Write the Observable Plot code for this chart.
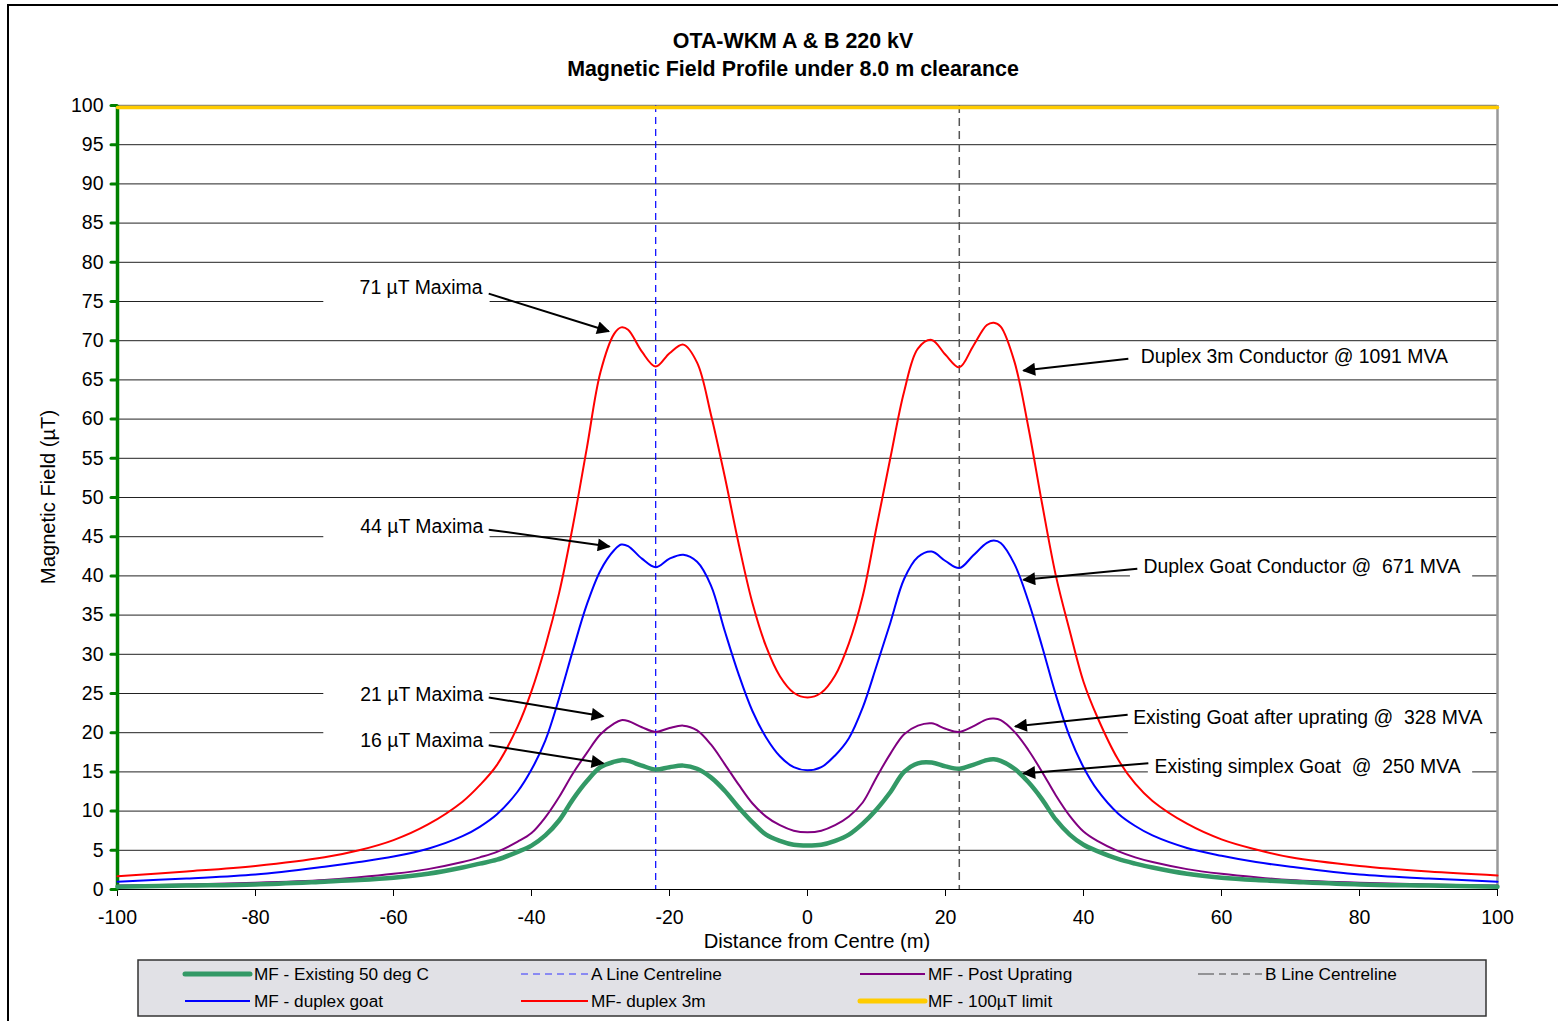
<!DOCTYPE html>
<html>
<head>
<meta charset="utf-8">
<script src="https://cdn.jsdelivr.net/npm/d3@7"></script>
<script src="https://cdn.jsdelivr.net/npm/@observablehq/plot@0.6"></script>
<style>
  html, body { margin: 0; padding: 0; background: #fff; }
  svg { white-space: pre; }
</style>
</head>
<body>
<div id="chart"></div>
<script>
// ---------------- DATA ----------------
const distance = [-100,-90,-80,-70,-65,-60,-55,-50,-47.5,-45,-42,-40,-38,-36,-34,-32,-30,-28,-27,-26,-24,-22,-20,-18,-16,-14,-12,-10,-8,-6,-4,-2,
  0,2,4,6,8,10,12,14,16,18,20,22,24,26,27,28,30,32,34,36,38,40,42,45,47.5,50,55,60,65,70,80,90,100];

const mfExisting50 = [0.35,0.5,0.65,1.0,1.2,1.5,2.0,2.8,3.3,3.8,4.8,5.6,6.9,8.8,11.5,13.8,15.6,16.3,16.5,16.4,15.8,15.3,15.6,15.8,15.4,14.3,12.6,10.5,8.6,7.0,6.2,5.7,
  5.6,5.7,6.2,7.0,8.4,10.2,12.4,15.0,16.1,16.2,15.7,15.4,15.9,16.5,16.6,16.4,15.4,13.7,11.5,8.9,7.0,5.7,4.9,3.9,3.3,2.8,2.0,1.5,1.2,1.0,0.65,0.5,0.35];

const mfPostUprating = [0.5,0.65,0.85,1.2,1.55,2.0,2.6,3.5,4.1,4.8,6.1,7.2,9.2,11.8,14.8,17.4,19.8,21.2,21.6,21.5,20.7,20.1,20.6,20.9,20.3,18.5,16.0,13.4,11.0,9.3,8.2,7.5,
  7.3,7.5,8.2,9.3,11.1,14.3,17.3,19.8,20.9,21.2,20.5,20.1,20.8,21.7,21.8,21.6,20.1,17.8,15.0,12.0,9.4,7.4,6.2,4.9,4.1,3.5,2.6,2.0,1.55,1.2,0.85,0.65,0.5];

const mfDuplexGoat = [1.0,1.4,1.9,2.9,3.5,4.2,5.2,6.8,8.0,9.6,12.5,15.3,19.0,24.4,30.5,36.3,40.7,43.3,44.0,43.8,42.2,41.1,42.2,42.7,41.8,38.8,33.0,27.5,22.8,19.4,17.0,15.6,
  15.2,15.6,17.1,19.3,23.2,28.5,34.0,39.6,42.4,43.1,41.9,41.0,42.6,44.2,44.5,44.2,41.5,36.8,31.0,24.8,19.5,15.6,12.7,9.7,8.1,6.9,5.3,4.3,3.5,2.9,1.9,1.4,1.0];

const mfDuplex3m = [1.7,2.3,3.0,4.1,5.0,6.3,8.3,11.2,13.3,15.9,20.8,25.3,31.0,37.8,46.4,56.2,66.0,70.9,71.7,71.4,68.6,66.7,68.4,69.5,67.2,60.6,52.7,44.2,36.6,31.0,27.2,25.1,
  24.5,25.1,27.3,31.4,37.4,46.2,55.0,63.5,69.0,70.1,68.2,66.6,69.3,72.0,72.3,71.8,67.3,59.0,49.2,40.0,33.0,26.5,22.0,16.6,13.5,11.3,8.4,6.4,5.1,4.1,3.0,2.3,1.8];

const limit100 = [100, 100];
const limitX = [-100, 100];

const aLineCentre = -22;
const bLineCentre = 22;

const xTicks = [-100,-80,-60,-40,-20,0,20,40,60,80,100];
const yTicks = d3.range(0, 101, 5);

// annotations (left labels end at x, right labels start at x)
const leftText = ["71 µT Maxima","44 µT Maxima","21 µT Maxima","16 µT Maxima"];
const leftX = [-47.1,-47.0,-47.0,-47.0];
const leftY = [76.8,46.3,24.9,19.0];
const rightText = ["Duplex 3m Conductor @ 1091 MVA","Duplex Goat Conductor @  671 MVA",
  "Existing Goat after uprating @  328 MVA","Existing simplex Goat  @  250 MVA"];
const rightX = [48.3,48.7,47.2,50.3];
const rightY = [67.9,41.1,21.9,15.7];
const arrowX1 = [-46.2,-46.2,-46.2,-46.2,46.5,47.8,46.4,49.4];
const arrowY1 = [76.0,45.9,24.5,18.4,67.7,40.9,22.3,16.1];
const arrowX2 = [-28.8,-28.7,-29.6,-29.6,31.3,31.3,30.1,31.3];
const arrowY2 = [71.2,43.75,22.1,16.1,66.2,39.5,20.8,14.8];

// white label backgrounds (hide gridlines behind labels)
const boxX1 = [-70.1,-70.1,-70.1,-70.1,46.8,46.5,49.4];
const boxX2 = [-46.0,-46.0,-46.0,-46.0,96.4,99.0,96.4];
const boxY1 = [73.5,43.5,23.0,17.5,38.5,19.0,13.5];
const boxY2 = [79.0,48.5,26.5,21.0,43.5,24.0,17.5];

const title1 = "OTA-WKM A & B 220 kV";
const title2 = "Magnetic Field Profile under 8.0 m clearance";
const xLabel = "Distance from Centre (m)";
const yLabel = "Magnetic Field (µT)";

// ---------------- BUILD ----------------
function rows(ys) { return distance.map((d, i) => ({x: d, y: ys[i]})); }
const leftAnno = leftText.map((t, i) => ({t, x: leftX[i], y: leftY[i]}));
const rightAnno = rightText.map((t, i) => ({t, x: rightX[i], y: rightY[i]}));
const arrows = arrowX1.map((d, i) => ({x1: d, y1: arrowY1[i], x2: arrowX2[i], y2: arrowY2[i]}));
const boxes = boxX1.map((d, i) => ({x1: d, x2: boxX2[i], y1: boxY1[i], y2: boxY2[i]}));
const limitRows = limitX.map((d, i) => ({x: d, y: limit100[i]}));

const FONT = "Arial, 'Liberation Sans', sans-serif";
const CURVE = "catmull-rom";

const plot = Plot.plot({
  width: 1558,
  height: 1021,
  marginLeft: 117,
  marginRight: 61,
  marginTop: 105,
  marginBottom: 132,
  style: {fontFamily: FONT, fontSize: "19px", background: "white", color: "#000"},
  x: {domain: [-100, 100]},
  y: {domain: [0, 100]},
  marks: [
    Plot.ruleY(d3.range(5, 100, 5), {stroke: "#222", strokeWidth: 1}),
    Plot.ruleY([100], {stroke: "#808080", strokeWidth: 1.5}),
    Plot.rect(boxes, {x1: "x1", x2: "x2", y1: "y1", y2: "y2", fill: "white"}),
    Plot.ruleX([100], {stroke: "#999", strokeWidth: 2.5}),
    Plot.ruleX([aLineCentre], {stroke: "#0000ff", strokeWidth: 1.2, strokeDasharray: "7,5"}),
    Plot.ruleX([bLineCentre], {stroke: "#555", strokeWidth: 1.5, strokeDasharray: "8,5"}),
    Plot.ruleY([0], {stroke: "#000", strokeWidth: 1.2}),
    Plot.axisX(xTicks, {tickSize: 7, tickPadding: 14, fontSize: 19.5, label: null, stroke: "#000", tickFormat: d => String(d)}),
    Plot.axisY(yTicks, {tickSize: 6, tickPadding: 8, fontSize: 19.5, label: null, tickFormat: d => String(d)}),
    Plot.ruleX([-100], {stroke: "#008000", strokeWidth: 3.5}),
    Plot.line(limitRows, {x: "x", y: "y", stroke: "#FFCC00", strokeWidth: 3.5, dy: 2}),
    Plot.line(rows(mfDuplex3m), {x: "x", y: "y", stroke: "#FF0000", strokeWidth: 2, curve: CURVE}),
    Plot.line(rows(mfDuplexGoat), {x: "x", y: "y", stroke: "#0000FF", strokeWidth: 2, curve: CURVE}),
    Plot.line(rows(mfPostUprating), {x: "x", y: "y", stroke: "#800080", strokeWidth: 2, curve: CURVE}),
    Plot.line(rows(mfExisting50), {x: "x", y: "y", stroke: "#339966", strokeWidth: 4.5, curve: CURVE}),
    Plot.link(arrows, {x1: "x1", y1: "y1", x2: "x2", y2: "y2", stroke: "#000", strokeWidth: 2}),
    Plot.text(leftAnno, {x: "x", y: "y", text: "t", textAnchor: "end", fontSize: 19.4, fill: "#000", lineAnchor: "middle"}),
    Plot.text(rightAnno, {x: "x", y: "y", text: "t", textAnchor: "start", fontSize: 19.4, fill: "#000", lineAnchor: "middle"})
  ]
});

document.getElementById("chart").appendChild(plot);

// ---------------- DECORATION ----------------
const svg = d3.select(plot);
svg.selectAll("g[aria-label='y-axis tick']")
  .attr("stroke", "#008000").attr("stroke-width", 3).attr("stroke-linecap", "round");

const defs = svg.insert("defs", ":first-child");
defs.append("marker")
  .attr("id", "ahead")
  .attr("viewBox", "0 0 10 10")
  .attr("refX", 9).attr("refY", 5)
  .attr("markerWidth", 18).attr("markerHeight", 13)
  .attr("markerUnits", "userSpaceOnUse")
  .attr("orient", "auto")
  .append("path").attr("d", "M0,0L10,5L0,10z").attr("fill", "#000");
svg.selectAll("g[aria-label='link'] path").attr("marker-end", "url(#ahead)");

// outer frame
svg.append("rect").attr("x", 8).attr("y", 5).attr("width", 1560).attr("height", 1040)
  .attr("fill", "none").attr("stroke", "#000").attr("stroke-width", 2);

// titles
svg.append("text").attr("x", 793).attr("y", 48).attr("text-anchor", "middle")
  .attr("font-weight", "bold").attr("font-size", 21.4).text(title1);
svg.append("text").attr("x", 793).attr("y", 76).attr("text-anchor", "middle")
  .attr("font-weight", "bold").attr("font-size", 21.4).text(title2);

// axis labels
svg.append("text").attr("x", 817).attr("y", 948).attr("text-anchor", "middle")
  .attr("font-size", 20.2).text(xLabel);
svg.append("text").attr("transform", "translate(55,497) rotate(-90)").attr("text-anchor", "middle")
  .attr("font-size", 20.2).text(yLabel);

// legend
const lg = svg.append("g").attr("text-anchor", "start");
lg.append("rect").attr("x", 138).attr("y", 960).attr("width", 1348).attr("height", 56)
  .attr("fill", "#E1E1E6").attr("stroke", "#333").attr("stroke-width", 1.5);
const legendItems = [
  {x1: 185, x2: 250, tx: 254, y: 974, stroke: "#339966", w: 5, dash: null, cap: "round", label: "MF - Existing 50 deg C"},
  {x1: 185, x2: 250, tx: 254, y: 1001, stroke: "#0000FF", w: 2, dash: null, cap: "butt", label: "MF - duplex goat"},
  {x1: 521, x2: 588, tx: 591, y: 974, stroke: "#3333ff", w: 1, dash: "7,5", cap: "butt", label: "A Line Centreline"},
  {x1: 521, x2: 588, tx: 591, y: 1001, stroke: "#FF0000", w: 2, dash: null, cap: "butt", label: "MF- duplex 3m"},
  {x1: 860, x2: 925, tx: 928, y: 974, stroke: "#800080", w: 2, dash: null, cap: "butt", label: "MF - Post Uprating"},
  {x1: 860, x2: 925, tx: 928, y: 1001, stroke: "#FFCC00", w: 5, dash: null, cap: "round", label: "MF - 100µT limit"},
  {x1: 1198, x2: 1262, tx: 1265, y: 974, stroke: "#444", w: 1.2, dash: "16,5,7,5,7,5,7,5", cap: "butt", label: "B Line Centreline"}
];
legendItems.forEach(d => {
  const ln = lg.append("line").attr("x1", d.x1).attr("x2", d.x2).attr("y1", d.y).attr("y2", d.y)
    .attr("stroke", d.stroke).attr("stroke-width", d.w).attr("stroke-linecap", d.cap);
  if (d.dash) ln.attr("stroke-dasharray", d.dash);
  lg.append("text").attr("x", d.tx).attr("y", d.y).attr("dy", "0.35em").attr("text-anchor", "start")
    .attr("font-size", 17.2).text(d.label);
});
</script>
</body>
</html>
